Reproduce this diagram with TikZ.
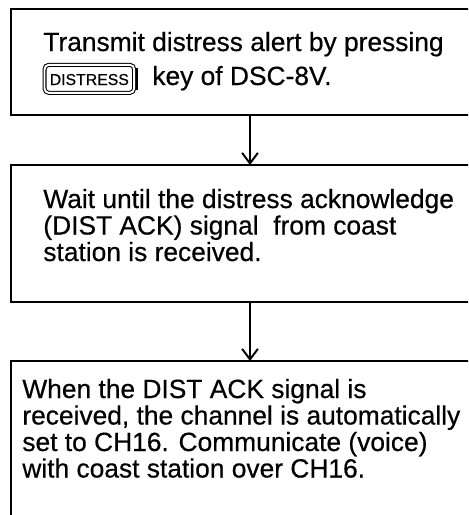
\documentclass[tikz,border=0pt]{standalone}
\usepackage{fontspec}
\setmainfont{Liberation Sans}
\newfontfamily\heavyfont{Liberation Sans}[FakeBold=0.5]
\usetikzlibrary{arrows.meta}

\tikzset{
  stepbox/.style={draw, line width=1.6pt, minimum width=478*0.02cm, outer sep=0pt, inner sep=0pt},
  txt/.style={anchor=base west, inner sep=0pt, font=\heavyfont\fontsize{15}{15}\selectfont},
  keybox/.style={draw, double, double distance=1.1pt, line width=0.6pt, rounded corners=2.5pt,
    anchor=base west, inner xsep=3pt, inner ysep=4.5pt, text height=7pt, text depth=0pt,
    font=\heavyfont\fontsize{9}{10}\selectfont},
  flow/.style={line width=1.1pt, -{Straight Barb[length=6pt, width=9pt, line width=1.1pt]}}
}

\begin{document}
\begin{tikzpicture}[x=0.02cm, y=-0.02cm]
  \useasboundingbox (0,0) rectangle (468,515);
  \clip (0,0) rectangle (468,515);

  % Boxes (cut off at the right edge)
  \node[stepbox, minimum height=106*0.02cm] (box1) at (250,62) {};
  \node[stepbox, minimum height=137*0.02cm] (box2) at (250,233.5) {};
  \node[stepbox, minimum height=199*0.02cm] (box3) at (250,460.5) {};

  % Step 1
  \node[txt] (send) at (43,51) {Transmit distress alert by pressing};
  \node[keybox] (distkey) at (44,85) {DISTRESS};
  \draw[line width=1.2pt] ([xshift=1.4pt, yshift=-2pt]distkey.north east)
    -- ([xshift=1.4pt, yshift=2pt]distkey.south east);
  \node[txt] (keyof) at (152,85) {key of DSC-8V.};

  % Step 2
  \foreach \line [count=\i] in {Wait until the distress acknowledge,
      (DIST ACK) signal\ \ from coast, station is received.}
    \node[txt] (wait\i) at (43,{208+26.5*(\i-1)}) {\line};

  % Step 3
  \foreach \line [count=\i] in {When the DIST ACK signal is,
      {received, the channel is automatically},
      set to CH16. Communicate (voice), with coast station over CH16.}
    \node[txt] (talk\i) at (22,{398+26.5*(\i-1)}) {\line};

  \draw[flow] (box1.south) -- (box2.north);
  \draw[flow] (box2.south) -- (box3.north);
\end{tikzpicture}
\end{document}
